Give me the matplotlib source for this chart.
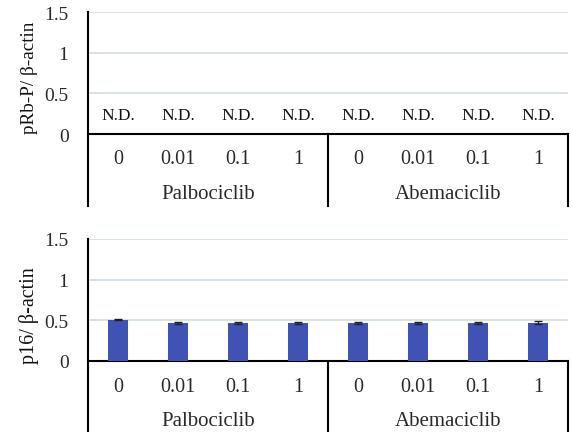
"""Western blot quantification: pRb-P and p16 relative to beta-actin."""

import matplotlib
matplotlib.use("Agg")
import matplotlib.pyplot as plt
import matplotlib.transforms as mtransforms

plt.rcParams["font.family"] = ["Liberation Serif", "DejaVu Serif"]

drugs = ["Palbociclib", "Abemaciclib"]
doses = ["0", "0.01", "0.1", "1"]

# pRb-P was not detected in any lane
prb_labels = ["N.D."] * 8

# p16 / beta-actin, mean and error per lane (Palbociclib 0..1, Abemaciclib 0..1)
p16_mean = [0.51, 0.47, 0.47, 0.47, 0.47, 0.47, 0.47, 0.47]
p16_err = [0.01, 0.01, 0.01, 0.01, 0.01, 0.01, 0.01, 0.02]

y_ticks = [0, 0.5, 1, 1.5]
y_tick_labels = ["0", "0.5", "1", "1.5"]

BAR_COLOR = "#4152b5"
GRID_COLOR = "#d3dde3"
TEXT_COLOR = "#2a2a2a"
W, H = 572, 439


def setup_panel(ax, cat_y, group_y, line_bottom):
    n = len(drugs) * len(doses)
    ax.set_xlim(0, n)
    ax.set_ylim(0, 1.5)
    ax.set_yticks(y_ticks)
    ax.set_yticklabels(y_tick_labels, fontsize=14, color=TEXT_COLOR)
    ax.tick_params(axis="y", length=0, pad=14)
    ax.set_xticks([])
    ax.grid(axis="y", color=GRID_COLOR, linewidth=1.2)
    ax.set_axisbelow(True)
    for s in ("top", "right", "left", "bottom"):
        ax.spines[s].set_visible(False)

    trans = mtransforms.blended_transform_factory(ax.transData, ax.transAxes)
    # zero line and the group dividers that run down into the label area
    ax.plot([0, n], [0, 0], color="black", lw=1.5, transform=trans, clip_on=False)
    ax.plot([0, 0], [1, line_bottom], color="black", lw=1.5,
            transform=trans, clip_on=False)
    for k in range(1, len(drugs) + 1):
        xk = k * len(doses)
        ax.plot([xk, xk], [0, line_bottom], color="black", lw=1.5,
                transform=trans, clip_on=False)

    for i in range(n):
        ax.text(i + 0.5, cat_y, doses[i % len(doses)], transform=trans,
                ha="center", va="center", fontsize=14.5, color=TEXT_COLOR)
    for k, d in enumerate(drugs):
        ax.text(k * len(doses) + len(doses) / 2, group_y, d, transform=trans,
                ha="center", va="center", fontsize=15, color=TEXT_COLOR)


fig = plt.figure(figsize=(W / 100, H / 100), dpi=100)
ax1 = fig.add_axes([88 / W, 1 - 135 / H, 480 / W, 122 / H])
ax2 = fig.add_axes([88 / W, 1 - 362 / H, 480 / W, 122 / H])

setup_panel(ax1, -0.197, -0.49, -0.59)
for i, lab in enumerate(prb_labels):
    ax1.text(i + 0.5, 0.23, lab, ha="center", va="center", fontsize=12.5,
             color="#111111")

setup_panel(ax2, -0.205, -0.49, -0.57)
xs = [i + 0.5 for i in range(len(p16_mean))]
ax2.bar(xs, p16_mean, width=0.32, color=BAR_COLOR, zorder=3,
        yerr=p16_err, capsize=3,
        error_kw=dict(ecolor="#222222", elinewidth=1, capthick=1, zorder=4))

# y titles sit with their lower end level with each zero line
fig.text(29 / W, 1 - 134 / H, "pRb-P/ β-actin", rotation=90, ha="center",
         va="bottom", fontsize=13.8, color="#111111")
fig.text(29 / W, 1 - 364 / H, "p16/ β-actin", rotation=90, ha="center",
         va="bottom", fontsize=14.5, color="#111111")

fig.savefig("out.png", dpi=100)
plt.close(fig)
